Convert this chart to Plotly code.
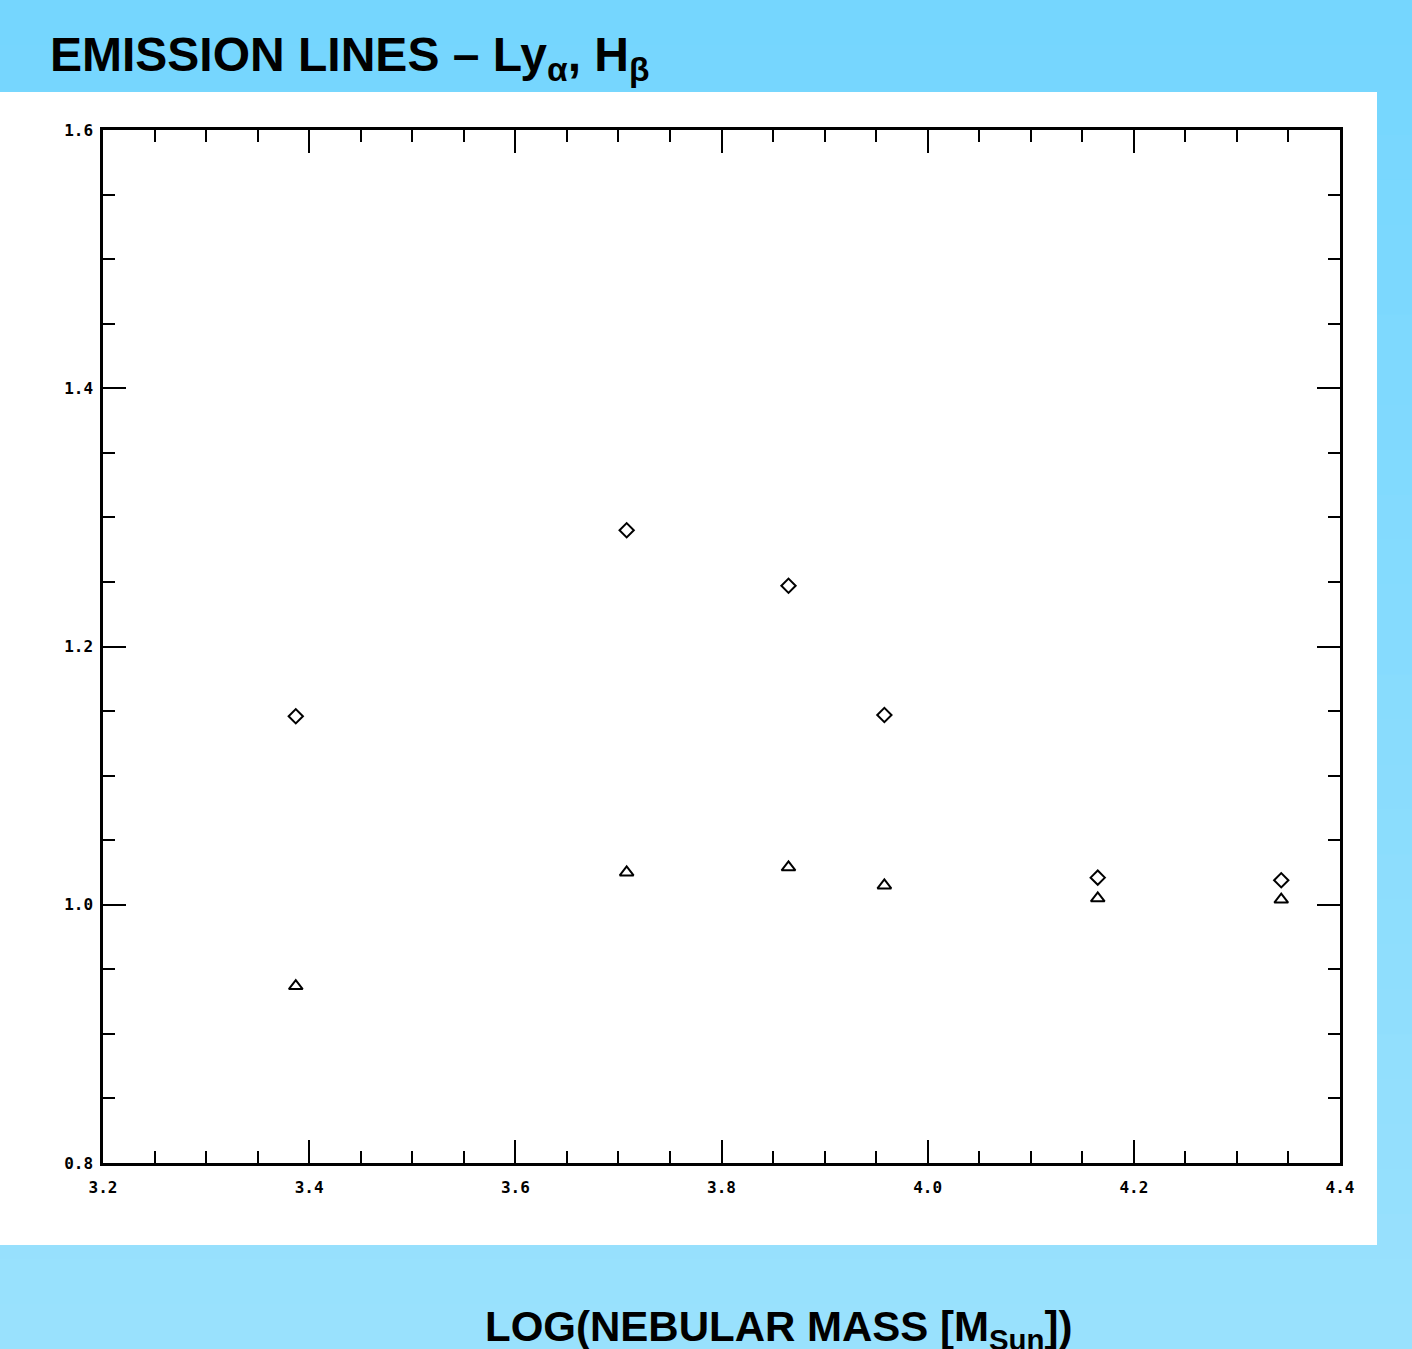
import plotly.graph_objects as go

# Data
log_mass = [3.387, 3.708, 3.865, 3.958, 4.165, 4.343]
ly_alpha = [1.146, 1.290, 1.247, 1.147, 1.021, 1.019]
h_beta = [0.937, 1.025, 1.029, 1.015, 1.005, 1.004]

x_ticks = [3.2, 3.4, 3.6, 3.8, 4.0, 4.2, 4.4]
y_ticks = [0.8, 1.0, 1.2, 1.4, 1.6]

W, H = 1412, 1349
L, R, T, B = 103, 1340, 130, 1163
pw, ph = R - L, B - T


def px(xp):
    return (xp - L) / pw


def py(yp):
    return (B - yp) / ph


fig = go.Figure()
fig.add_trace(go.Scatter(
    x=log_mass, y=ly_alpha, mode="markers", name="Ly alpha",
    marker=dict(symbol="diamond-open", size=11, color="black", line=dict(width=2, color="black")),
))
fig.add_trace(go.Scatter(
    x=log_mass, y=h_beta, mode="markers", name="H beta",
    marker=dict(symbol="triangle-up-open", size=12, color="black", line=dict(width=2, color="black")),
))

# background gradient bands
shapes = []
top = (117, 214, 254)
bot = (153, 225, 253)
n = 30
for i in range(n):
    t = i / (n - 1)
    c = tuple(int(round(top[k] + (bot[k] - top[k]) * t)) for k in range(3))
    y0p = H * i / n
    y1p = H * (i + 1) / n + 1
    shapes.append(dict(type="rect", xref="paper", yref="paper", layer="below",
                       x0=px(0), x1=px(W), y0=py(y1p), y1=py(y0p),
                       fillcolor="rgb(%d,%d,%d)" % c, line=dict(width=0)))
# white panel
shapes.append(dict(type="rect", xref="paper", yref="paper", layer="below",
                   x0=px(0), x1=px(1377), y0=py(1245), y1=py(92),
                   fillcolor="white", line=dict(width=0)))

tickfont = dict(family="DejaVu Sans Mono", size=16, color="black", weight="bold")
axis_common = dict(
    showgrid=False, zeroline=False, showline=True, linecolor="black", linewidth=2.5,
    mirror="ticks", ticks="inside", ticklen=23, tickwidth=2, tickcolor="black",
    tickfont=tickfont,
)

fig.update_layout(
    width=W, height=H,
    margin=dict(l=L, r=W - R, t=T, b=H - B),
    paper_bgcolor="rgb(135,219,253)", plot_bgcolor="white",
    showlegend=False,
    shapes=shapes,
    xaxis=dict(range=[3.2, 4.4], tickvals=x_ticks, ticktext=["%.1f" % v for v in x_ticks],
               minor=dict(dtick=0.05, tick0=3.2, ticks="inside", ticklen=12, tickwidth=2, tickcolor="black"),
               ticklabelstandoff=8, **axis_common),
    yaxis=dict(range=[0.8, 1.6], tickvals=y_ticks, ticktext=["%.1f" % v for v in y_ticks],
               minor=dict(dtick=0.05, tick0=0.8, ticks="inside", ticklen=12, tickwidth=2, tickcolor="black"),
               ticklabelstandoff=4, **axis_common),
    annotations=[
        dict(text="EMISSION LINES – Ly<sub>α</sub>, H<sub>β</sub>", xref="paper", yref="paper",
             x=px(48), y=py(58), xanchor="left", yanchor="middle", showarrow=False,
             font=dict(family="Liberation Sans", size=48, color="black", weight="bold")),
        dict(text="LOG(NEBULAR MASS [M<sub>Sun</sub>])", xref="paper", yref="paper",
             x=px(483), y=py(1329), xanchor="left", yanchor="middle", showarrow=False,
             font=dict(family="Liberation Sans", size=42, color="black", weight="bold")),
    ],
)

fig.write_html("out.html", config={"displayModeBar": False},
               post_script="document.body.style.margin='0';document.body.style.overflow='hidden';")
